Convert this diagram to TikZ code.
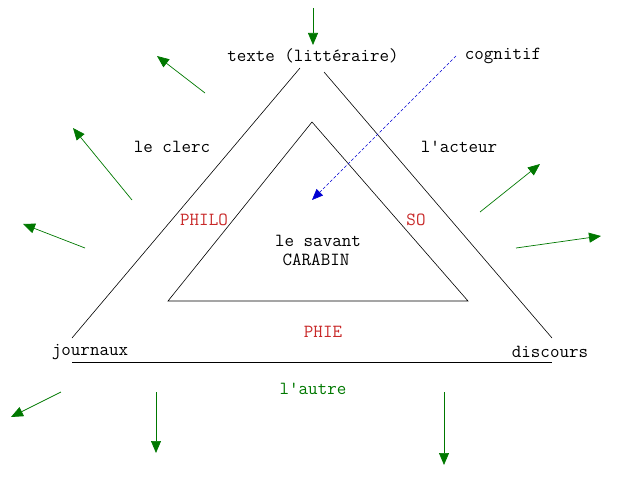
\documentclass[tikz,border=0pt]{standalone}
\usetikzlibrary{arrows.meta}
\definecolor{gr}{RGB}{0,120,0}
\definecolor{rd}{RGB}{200,40,40}
\definecolor{bl}{RGB}{0,0,210}
\begin{document}
\begin{tikzpicture}[x=1pt,y=-1pt,
  lbl/.style={inner sep=0pt,font=\ttfamily\fontsize{18.5}{21}\selectfont},
  redlbl/.style={lbl,text=rd},
  grnarrow/.style={draw=gr,line width=0.7pt,-{Triangle[length=12pt,width=10pt]}},
  bluearrow/.style={draw=bl,line width=0.6pt,dash pattern=on 3pt off 2pt,-{Triangle[length=11pt,width=9pt]}},
  edge/.style={draw=black,line width=0.6pt}]
\useasboundingbox (0,0) rectangle (620,481);
% outer triangle
\coordinate (oL1) at (72,338); \coordinate (oT1) at (300,68);
\coordinate (oT2) at (324,72); \coordinate (oR2) at (552,338);
\coordinate (bL) at (72,362); \coordinate (bR) at (552,362);
\draw[edge] (oL1) -- (oT1);
\draw[edge] (oT2) -- (oR2);
\draw[edge] (bL) -- (bR);
% inner triangle
\coordinate (iT) at (312,122); \coordinate (iL) at (168,301); \coordinate (iR) at (468,301);
\draw[edge] (iT) -- (iL) -- (iR) -- cycle;
% labels
\node[lbl] (texte) at (313,56) {texte (littéraire)};
\node[lbl] (cog) at (503,56) {cognitif};
\node[lbl] (clerc) at (172,147) {le clerc};
\node[lbl] (acteur) at (459,147) {l\textquotesingle acteur};
\node[redlbl] (philo) at (204,220) {PHILO};
\node[redlbl] (so) at (416,220) {SO};
\node[lbl] (savant) at (318,241) {le savant};
\node[lbl] (carabin) at (316,260) {CARABIN};
\node[redlbl] (phie) at (323,332) {PHIE};
\node[lbl] (journ) at (90,352) {journaux};
\node[lbl] (disc) at (550,352) {discours};
\node[lbl,text=gr] (autre) at (313,389) {l\textquotesingle autre};
% green arrows
\coordinate (a1s) at (313,8);   \coordinate (a1e) at (313,45);
\coordinate (a2s) at (205,93);  \coordinate (a2e) at (157,56);
\coordinate (a3s) at (132,200); \coordinate (a3e) at (73,128);
\coordinate (a4s) at (85,248);  \coordinate (a4e) at (23,224);
\coordinate (a5s) at (61,392);  \coordinate (a5e) at (11,417);
\coordinate (a6s) at (156,392); \coordinate (a6e) at (156,453);
\coordinate (a7s) at (444,392); \coordinate (a7e) at (444,465);
\coordinate (a8s) at (480,212); \coordinate (a8e) at (540,164);
\coordinate (a9s) at (516,248); \coordinate (a9e) at (601,236);
\foreach \i in {1,...,9} {\draw[grnarrow] (a\i s) -- (a\i e);}
% blue dashed
\coordinate (bs) at (456,56); \coordinate (be) at (312,200);
\draw[bluearrow] (bs) -- (be);
\end{tikzpicture}
\end{document}
